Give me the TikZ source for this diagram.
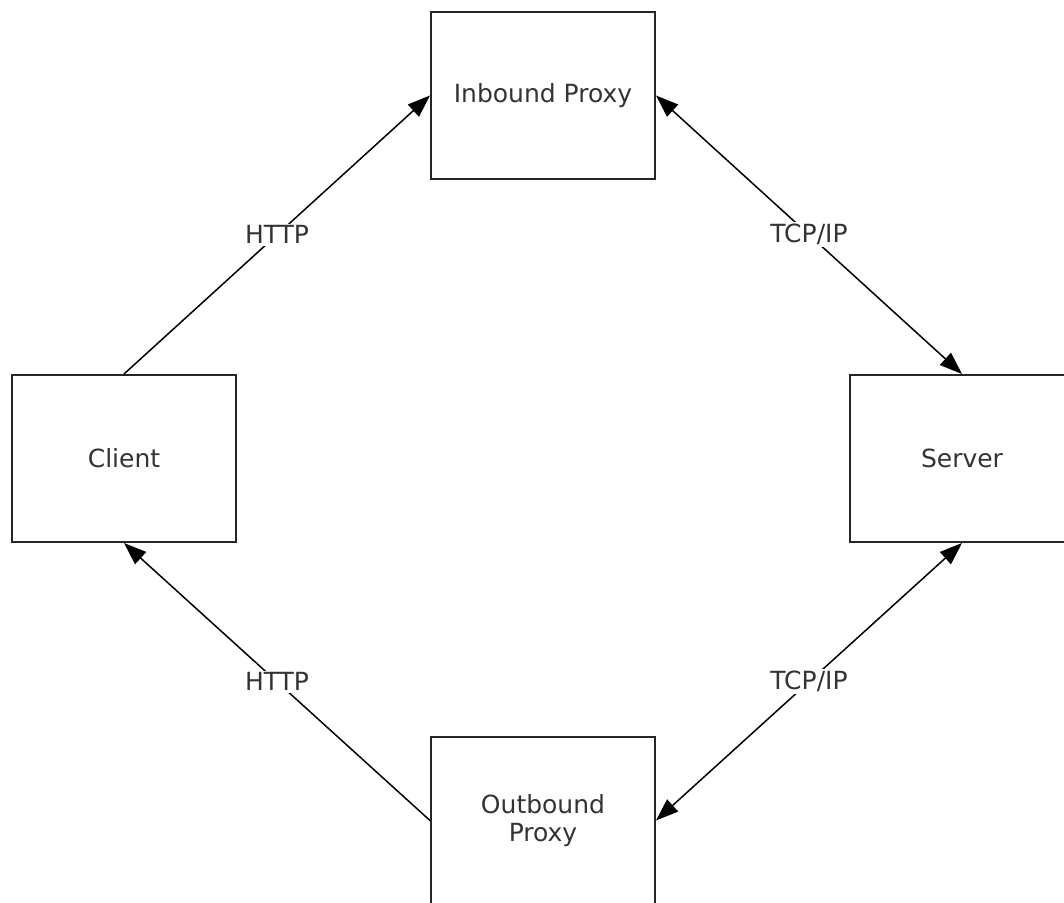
\documentclass[tikz,border=0pt]{standalone}
\usepackage{fontspec}
\setmainfont{DejaVu Sans}
\usetikzlibrary{arrows.meta,positioning}

\begin{document}
\begin{tikzpicture}[x=0.4pt,y=0.4pt,->,>={Triangle[length=9pt,width=6.5pt]},
                    shorten >=0pt,semithick,
                    box/.style={draw=black!85,thick,-,minimum width=89.6pt,
                                minimum height=66.8pt,inner sep=0pt,text=black!80,
                                align=center,font=\fontsize{10}{11.5}\selectfont},
                    lbl/.style={fill=white,inner sep=0.8pt,text=black!80,
                                font=\fontsize{10}{12}\selectfont}]

  \useasboundingbox (0,0) rectangle (1064,902);

  	\node[box] (inbound)  at (543,806.5)   	{Inbound Proxy};
  	\node[box] (client)   at (124,443.5)   	{Client};
  	\node[box] (server)   at (962,443.5)   	{Server};
  	\node[box] (outbound) at (543,81.5)    	{Outbound\\Proxy};

  	\path (client.north) edge           	node[lbl] {HTTP} (inbound.west);
  	\path (inbound.east) edge [<->]    	node[lbl] {TCP/IP} (server.north);
  	\path (server.south) edge [<->]    	node[lbl] {TCP/IP} (outbound.east);
  	\path (outbound.west) edge          	node[lbl] {HTTP} (client.south);

\end{tikzpicture}
\end{document}
